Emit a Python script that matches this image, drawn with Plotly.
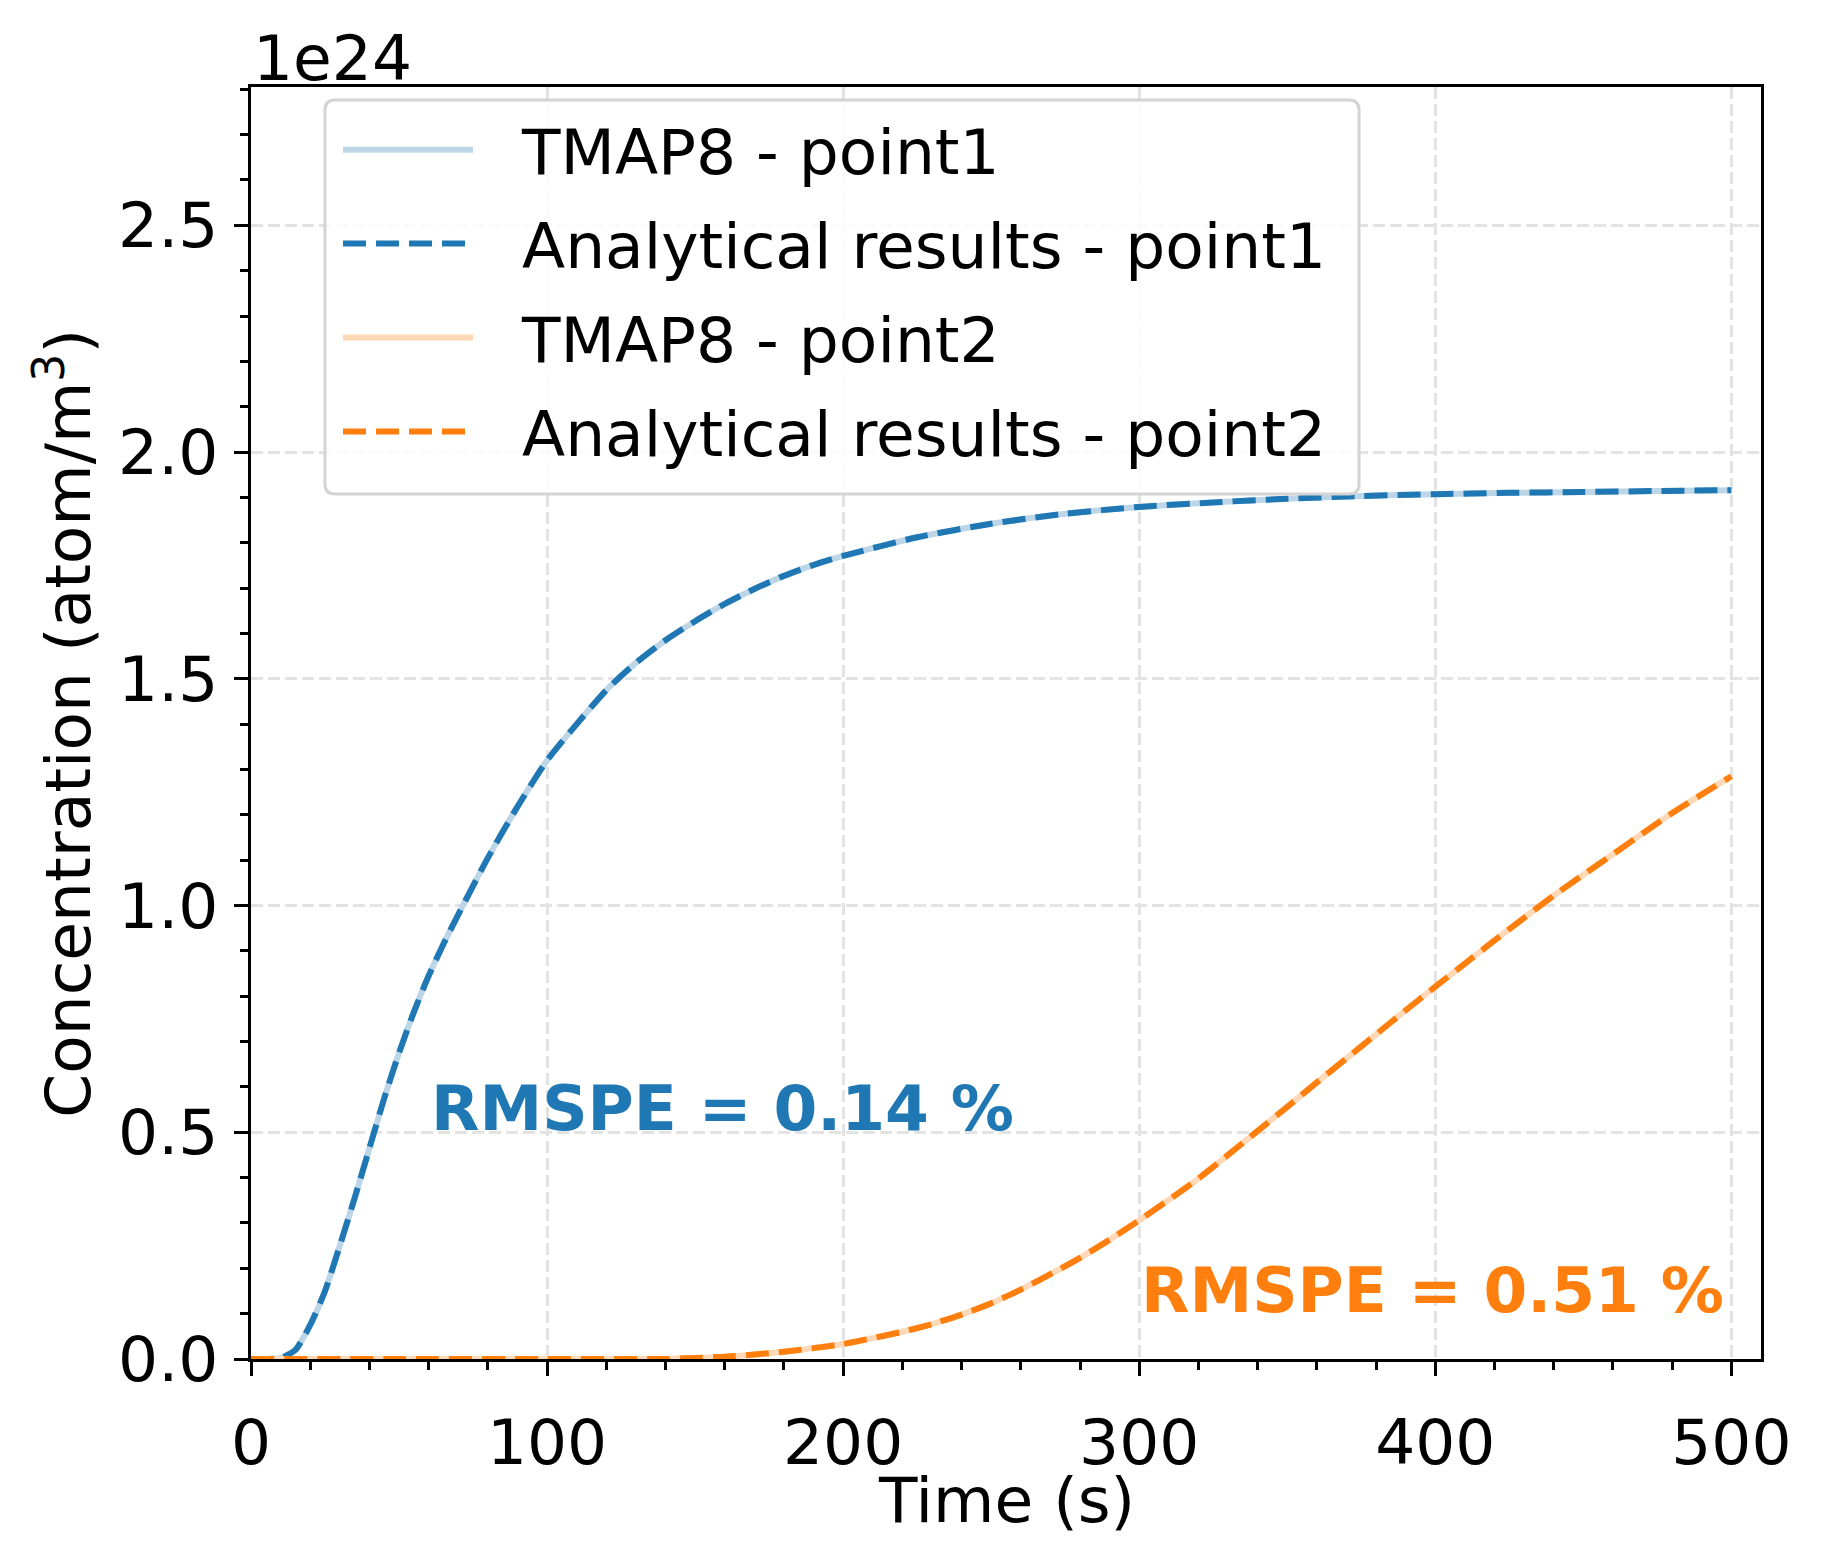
import plotly.graph_objects as go

SCALE_LABEL = "1e24"

# Point 1 (values in units of 1e24 atom/m^3)
t_point1 = [0, 5, 10, 15, 20, 25, 30, 35, 40, 45, 50, 55, 60, 65, 70, 80, 90, 100,
            110, 120, 130, 140, 150, 160, 170, 180, 190, 200, 225, 250, 275, 300, 325, 350,
            375, 400, 425, 450, 475, 500]
c_point1 = [0.0, 0.0, 0.002, 0.02, 0.075, 0.15, 0.25, 0.355, 0.465, 0.575, 0.675,
            0.765, 0.845, 0.915, 0.98, 1.105, 1.218, 1.32, 1.40, 1.475, 1.535, 1.585,
            1.627, 1.665, 1.698, 1.727, 1.751, 1.771, 1.812, 1.842, 1.864, 1.879, 1.889, 1.897,
            1.903, 1.907, 1.910, 1.912, 1.914, 1.916]

# Point 2
t_point2 = [0, 50, 100, 140, 150, 160, 170, 180, 190, 200, 210, 220, 230, 240, 250,
            260, 270, 280, 290, 300, 310, 320, 330, 340, 350, 360, 370, 380, 390,
            400, 410, 420, 430, 440, 450, 460, 470, 480, 490, 500]
c_point2 = [0.0, 0.0, 0.0, 0.0, 0.002, 0.005, 0.01, 0.016, 0.024, 0.033, 0.046, 0.06,
            0.077, 0.098, 0.123, 0.153, 0.187, 0.223, 0.263, 0.306, 0.351, 0.398,
            0.450, 0.503, 0.556, 0.610, 0.663, 0.716, 0.769, 0.821, 0.872, 0.923,
            0.973, 1.022, 1.068, 1.113, 1.159, 1.204, 1.245, 1.285]

legend_names = ["TMAP8 - point1", "Analytical results - point1",
                "TMAP8 - point2", "Analytical results - point2"]
rmspe_labels = ["RMSPE = 0.14 %", "RMSPE = 0.51 %"]
rmspe_pos = [(60, 0.5), (300, 0.1)]

BLUE = "#1f77b4"
ORANGE = "#ff7f0e"
BLUE_LIGHT = "#bcd6e8"
ORANGE_LIGHT = "#ffd9b7"
FONT = "DejaVu Sans"
FS = 63
LW = 6
DASH = "23px,10px"
PAD = "\u2002\u2009"  # gap between legend line sample and its label

series = [
    (t_point1, c_point1, BLUE_LIGHT, "solid"),
    (t_point1, c_point1, BLUE, DASH),
    (t_point2, c_point2, ORANGE_LIGHT, "solid"),
    (t_point2, c_point2, ORANGE, DASH),
]

fig = go.Figure()
for i, ((tx, cy, col, dash), name) in enumerate(zip(series, legend_names)):
    fig.add_trace(go.Scatter(x=tx, y=cy, mode="lines", name=PAD + name,
                             legendgroup="g%d" % i,
                             line=dict(color=col, width=LW, dash=dash,
                                       shape="spline", smoothing=0.6)))

annotations = []
for (x, y), txt, col in zip(rmspe_pos, rmspe_labels, [BLUE, ORANGE]):
    annotations.append(dict(x=x, y=y, xref="x", yref="y", text="<b>%s</b>" % txt,
                            showarrow=False, xanchor="left", yanchor="bottom", yshift=-15,
                            font=dict(family=FONT, size=FS, color=col)))
annotations.append(dict(x=0, y=1.0, xref="paper", yref="paper", text=SCALE_LABEL,
                        showarrow=False, xanchor="left", yanchor="bottom", yshift=-10,
                        font=dict(family=FONT, size=FS, color="black")))
annotations.append(dict(x=0.5, y=-0.111, xref="paper", yref="paper", text="Time (s)",
                        showarrow=False, xanchor="center", yanchor="middle",
                        font=dict(family=FONT, size=FS, color="black")))
annotations.append(dict(x=-0.124, y=0.5, xref="paper", yref="paper",
                        text="Concentration (atom/m<sup>3</sup>)", textangle=-90,
                        showarrow=False, xanchor="center", yanchor="middle",
                        font=dict(family=FONT, size=FS, color="black")))

# legend frame (rounded box, matplotlib-like)
lx0, lx1, ly0, ly1 = 0.049, 0.7338, 0.680, 0.9898
rx, ry = 0.0066, 0.0079
frame_path = (f"M{lx0+rx},{ly0} L{lx1-rx},{ly0} Q{lx1},{ly0} {lx1},{ly0+ry} "
              f"L{lx1},{ly1-ry} Q{lx1},{ly1} {lx1-rx},{ly1} "
              f"L{lx0+rx},{ly1} Q{lx0},{ly1} {lx0},{ly1-ry} "
              f"L{lx0},{ly0+ry} Q{lx0},{ly0} {lx0+rx},{ly0} Z")
shapes = [dict(type="path", path=frame_path, xref="paper", yref="paper",
               line=dict(color="#d4d4d4", width=3), fillcolor="rgba(255,255,255,0.8)",
               layer="above")]

axis_common = dict(showline=True, linecolor="black", linewidth=3.3, mirror=True,
                   ticks="outside", ticklen=14, tickwidth=3.3, tickcolor="black",
                   showgrid=True, gridcolor="#e3e3e3", gridwidth=3, griddash="12px,5px",
                   zeroline=False, tickfont=dict(family=FONT, size=FS, color="black"))

fig.update_xaxes(range=[0, 510], tickvals=[0, 100, 200, 300, 400, 500],
                 minor=dict(dtick=20, tick0=0, ticks="outside", ticklen=8, tickwidth=2.5,
                            tickcolor="black", showgrid=False),
                 ticklabelstandoff=12, **axis_common)
fig.update_yaxes(range=[0, 2.805], tickvals=[0, 0.5, 1.0, 1.5, 2.0, 2.5], tickformat=".1f",
                 minor=dict(dtick=0.1, tick0=0, ticks="outside", ticklen=8, tickwidth=2.5,
                            tickcolor="black", showgrid=False),
                 ticklabelstandoff=3, **axis_common)

fig.update_layout(
    width=1821, height=1561,
    margin=dict(l=251, r=60, t=87, b=202, autoexpand=False),
    paper_bgcolor="white", plot_bgcolor="white",
    font=dict(family=FONT, size=FS, color="black"),
    showlegend=True,
    legend=dict(x=0.0576, y=0.988, xanchor="left", yanchor="top",
                bgcolor="rgba(0,0,0,0)", borderwidth=0,
                font=dict(family=FONT, size=FS, color="black"), itemwidth=130,
                tracegroupgap=9),
    shapes=shapes,
    annotations=annotations,
)

fig.write_html("out.html")
